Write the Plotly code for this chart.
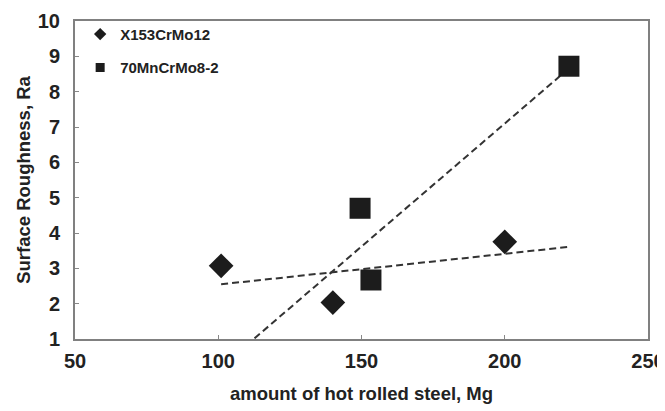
import numpy as np
import plotly.graph_objects as go

# Data
x153_x = [101, 140, 200]
x153_y = [3.07, 2.03, 3.75]
mn70_x = [149.5, 153.3, 222.4]
mn70_y = [4.70, 2.67, 8.72]

series_names = ["X153CrMo12", "70MnCrMo8-2"]
x_ticks = [50, 100, 150, 200, 250]
y_ticks = [1, 2, 3, 4, 5, 6, 7, 8, 9, 10]

# linear trend lines (least squares) over the overall data span
all_x = x153_x + mn70_x
span = np.array([min(all_x), max(all_x)])
k1, b1 = np.polyfit(x153_x, x153_y, 1)
k2, b2 = np.polyfit(mn70_x, mn70_y, 1)

font_family = "Liberation Sans, Arial, sans-serif"
dark = "#1c1c1c"
txt = "#222222"
trend_line = dict(color="#333333", width=2, dash="7px,4px")

fig = go.Figure()
fig.add_trace(go.Scatter(x=span, y=k1 * span + b1, mode="lines", line=trend_line,
                         showlegend=False, hoverinfo="skip"))
fig.add_trace(go.Scatter(x=span, y=k2 * span + b2, mode="lines", line=trend_line,
                         showlegend=False, hoverinfo="skip"))
fig.add_trace(go.Scatter(x=x153_x, y=x153_y, mode="markers", name=series_names[0],
                         marker=dict(symbol="diamond", size=19, color=dark, line=dict(width=0)),
                         showlegend=False))
fig.add_trace(go.Scatter(x=mn70_x, y=mn70_y, mode="markers", name=series_names[1],
                         marker=dict(symbol="square", size=21, color=dark, line=dict(width=0)),
                         showlegend=False))
# legend entries (smaller legend symbols, like the original)
fig.add_trace(go.Scatter(x=[None], y=[None], mode="markers", name=f"<b>{series_names[0]}</b>",
                         marker=dict(symbol="diamond", size=9.5, color=dark, line=dict(width=0)),
                         legend="legend"))
fig.add_trace(go.Scatter(x=[None], y=[None], mode="markers", name=f"<b>{series_names[1]}</b>",
                         marker=dict(symbol="square", size=9, color=dark, line=dict(width=0)),
                         legend="legend2"))

legend_common = dict(bgcolor="rgba(0,0,0,0)", borderwidth=0, itemsizing="trace",
                     font=dict(family=font_family, size=15, color=txt),
                     xanchor="left", yanchor="middle", itemwidth=30)

fig.update_layout(
    width=657, height=403,
    margin=dict(l=67, r=17, t=10, b=72),
    paper_bgcolor="white", plot_bgcolor="white",
    font=dict(family=font_family, color=txt),
    legend=dict(x=0.009, y=0.958, **legend_common),
    legend2=dict(x=0.009, y=0.853, **legend_common),
    xaxis=dict(range=[50, 250], tickvals=x_ticks,
               ticktext=[f"<b>{v}</b>" for v in x_ticks],
               tickfont=dict(size=20, family=font_family, color=txt),
               ticks="inside", ticklen=4, tickcolor="#888888",
               ticklabelstandoff=3, ticklabeloverflow="allow",
               showline=True, linecolor="#808080", linewidth=2, mirror=True,
               showgrid=False, zeroline=False, automargin=False,
               title=dict(text="<b>amount of hot rolled steel, Mg</b>",
                          font=dict(size=18.5, family=font_family, color=txt),
                          standoff=16)),
    yaxis=dict(range=[1, 10], tickvals=y_ticks,
               ticktext=[f"<b>{v}</b>" for v in y_ticks],
               tickfont=dict(size=20, family=font_family, color=txt),
               ticks="inside", ticklen=4, tickcolor="#888888",
               ticklabelstandoff=9, ticklabeloverflow="allow",
               showline=True, linecolor="#808080", linewidth=2, mirror=True,
               showgrid=False, zeroline=False, automargin=False,
               title=dict(text="<b>Surface Roughness, Ra</b>",
                          font=dict(size=18.5, family=font_family, color=txt),
                          standoff=2)),
)

fig.write_html("out.html")
